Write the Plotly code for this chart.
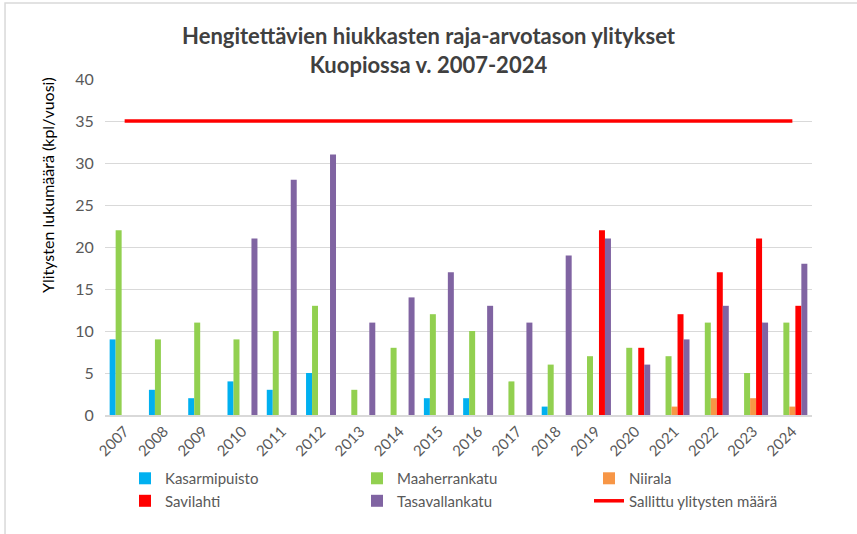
import plotly.graph_objects as go

years = [str(y) for y in range(2007, 2025)]
kasarmipuisto = [9, 3, 2, 4, 3, 5, 0, 0, 2, 2, 0, 1, None, None, None, None, None, None]
maaherrankatu = [22, 9, 11, 9, 10, 13, 3, 8, 12, 10, 4, 6, 7, 8, 7, 11, 5, 11]
niirala = [None, None, None, None, None, None, None, None, None, None, None, None, None, None, 1, 2, 2, 1]
savilahti = [None, None, None, None, None, None, None, None, None, None, None, None, 22, 8, 12, 17, 21, 13]
tasavallankatu = [0, 0, 0, 21, 28, 31, 11, 14, 17, 13, 11, 19, 21, 6, 9, 13, 11, 18]
sallittu = [35] * 18

FONT = "Lato"
fig = go.Figure()
series = [
    ("Kasarmipuisto", kasarmipuisto, "#00B0F0"),
    ("Maaherrankatu", maaherrankatu, "#92D050"),
    ("Niirala", niirala, "#F79646"),
    ("Savilahti", savilahti, "#FF0000"),
    ("Tasavallankatu", tasavallankatu, "#8064A2"),
]
for name, vals, col in series:
    fig.add_trace(go.Bar(x=years, y=vals, name=name, marker=dict(color=col, line=dict(width=0))))
fig.add_trace(go.Scatter(x=years, y=sallittu, name="Sallittu ylitysten määrä", mode="lines",
                         line=dict(color="#FF0000", width=3.5)))

fig.update_layout(
    width=857, height=534,
    margin=dict(l=105, r=45, t=79, b=119, autoexpand=False),
    paper_bgcolor="white", plot_bgcolor="white",
    barmode="group", bargap=0.237, bargroupgap=0,
    font=dict(family=FONT, color="#595959"),
    title=dict(text="Hengitettävien hiukkasten raja-arvotason ylitykset<br>Kuopiossa v. 2007-2024",
               x=0.5, xanchor="center", y=0.917, yanchor="top",
               font=dict(family=FONT, size=22, color="#404040", weight="bold")),
    xaxis=dict(type="category", range=[-0.5, 17.5], tickangle=-45, showgrid=False,
               automargin=False,
               showline=True, linecolor="#D9D9D9", linewidth=1.5, ticks="",
               tickfont=dict(size=15, color="#595959")),
    yaxis=dict(range=[0, 40], dtick=5, showgrid=True, gridcolor="#D9D9D9", gridwidth=1.3,
               automargin=False,
               zeroline=False, showline=False, ticks="outside", ticklen=7,
               tickcolor="rgba(0,0,0,0)",
               tickfont=dict(size=16, color="#595959")),
    annotations=[dict(text="Ylitysten lukumäärä (kpl/vuosi)", xref="paper", yref="paper",
                      x=-0.082, y=0.6845, xanchor="center", yanchor="middle", textangle=-90,
                      showarrow=False, font=dict(family=FONT, size=16, color="#000000"))],
    legend=dict(orientation="h", x=0.0283, xanchor="left", y=-0.14, yanchor="top",
                entrywidth=187, entrywidthmode="pixels", traceorder="normal",
                font=dict(size=15, color="#595959"), itemwidth=30, tracegroupgap=2),
    shapes=[dict(type="rect", xref="paper", yref="paper", x0=-0.1414, x1=1.068, y0=-0.372, y1=1.226,
                 line=dict(color="#D9D9D9", width=1.5), fillcolor="rgba(0,0,0,0)", layer="below")],
)
fig.write_html("out.html", config={"displayModeBar": False},
               post_script="document.body.style.margin='0px';")
